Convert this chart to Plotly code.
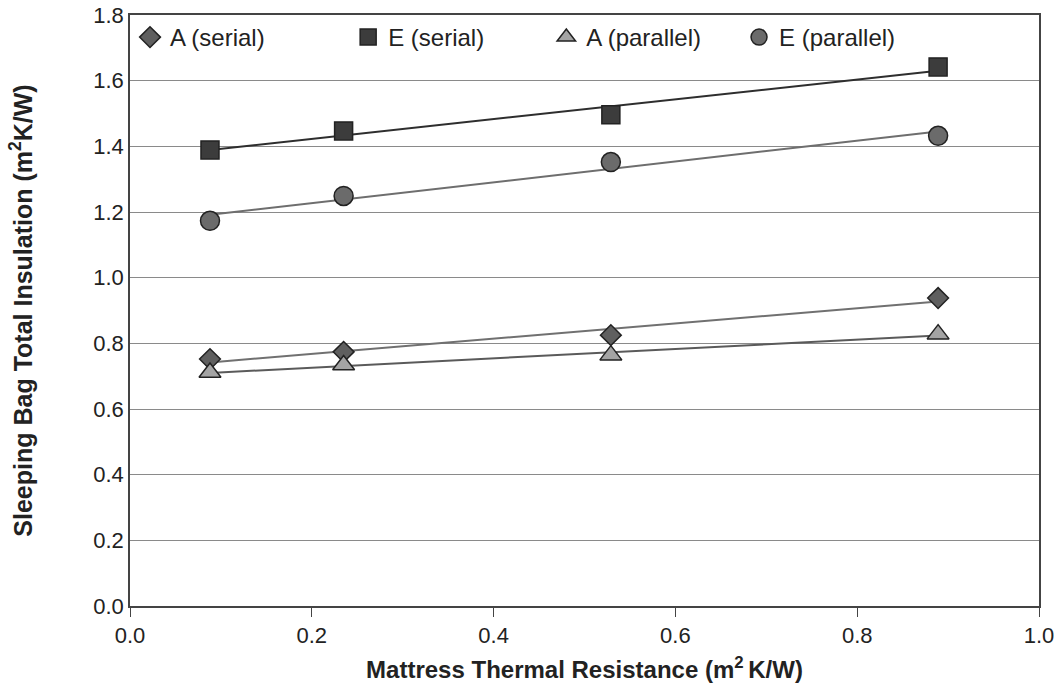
import numpy as np
import plotly.graph_objects as go

# Mattress thermal resistance (m2K/W)
mattress_r = [0.088, 0.235, 0.529, 0.889]

# Sleeping bag total insulation (m2K/W)
a_serial = [0.752, 0.774, 0.825, 0.938]
e_serial = [1.389, 1.447, 1.496, 1.642]
a_parallel = [0.711, 0.734, 0.764, 0.828]
e_parallel = [1.173, 1.249, 1.352, 1.432]

y_ticks = [0.0, 0.2, 0.4, 0.6, 0.8, 1.0, 1.2, 1.4, 1.6, 1.8]
x_ticks = [0.0, 0.2, 0.4, 0.6, 0.8, 1.0]

FONT = "Liberation Sans"
TEXT = "#222222"

# name, values, symbol, size, fill, trend-line colour, legend id, legend x (paper)
series = [
    ("A (serial)", a_serial, "diamond", 16, "#5f5f5f", "#707070", "legend", 0.000),
    ("E (serial)", e_serial, "square", 18, "#3c3c3c", "#2e2e2e", "legend2", 0.240),
    ("A (parallel)", a_parallel, "triangle-up", 19, "#a4a4a4", "#5a5a5a", "legend3", 0.458),
    ("E (parallel)", e_parallel, "circle", 19, "#6b6b6b", "#6e6e6e", "legend4", 0.670),
]

fig = go.Figure()
x_arr = np.array(mattress_r)

# least-squares trend line for each series
for name, ys, sym, size, fill, line_col, lg, lx in series:
    slope, intercept = np.polyfit(x_arr, np.array(ys), 1)
    xs = [x_arr.min(), x_arr.max()]
    fig.add_trace(go.Scatter(
        x=xs, y=[slope * v + intercept for v in xs], mode="lines",
        line=dict(color=line_col, width=2), showlegend=False, hoverinfo="skip",
    ))

legends = {}
for name, ys, sym, size, fill, line_col, lg, lx in series:
    fig.add_trace(go.Scatter(
        x=mattress_r, y=ys, mode="markers", name=name, legend=lg,
        marker=dict(symbol=sym, size=size, color=fill,
                    line=dict(color="#222222", width=1.5)),
    ))
    legends[lg] = dict(
        x=lx, y=1.0, xanchor="left", yanchor="top",
        bgcolor="rgba(0,0,0,0)", font=dict(family=FONT, size=24, color=TEXT),
        itemsizing="trace",
    )

fig.update_layout(
    width=1060, height=683,
    margin=dict(l=130, r=21, t=15, b=77),
    paper_bgcolor="white", plot_bgcolor="white",
    font=dict(family=FONT, size=22, color=TEXT),
    **legends,
    xaxis=dict(
        range=[0, 1], tickvals=x_ticks, ticktext=[f"{v:.1f}" for v in x_ticks],
        tickfont=dict(size=22),
        showgrid=False, zeroline=False, automargin=False,
        showline=True, linecolor="#444444", linewidth=1.5, mirror=True,
        ticks="outside", ticklen=9, tickcolor="#444444",
        title=dict(text="<b>Mattress Thermal Resistance (m<sup>2 </sup>K/W)</b>",
                   font=dict(size=24)),
    ),
    yaxis=dict(
        range=[0, 1.8], tickvals=y_ticks, ticktext=[f"{v:.1f}" for v in y_ticks],
        tickfont=dict(size=22),
        showgrid=True, gridcolor="#8a8a8a", gridwidth=1, zeroline=False,
        automargin="left",
        showline=True, linecolor="#444444", linewidth=1.5, mirror=True,
        ticks="", ticklen=0,
        title=dict(text="<b>Sleeping Bag Total Insulation (m<sup>2</sup>K/W)</b>",
                   font=dict(size=25), standoff=54),
    ),
)

fig.write_html("out.html")
